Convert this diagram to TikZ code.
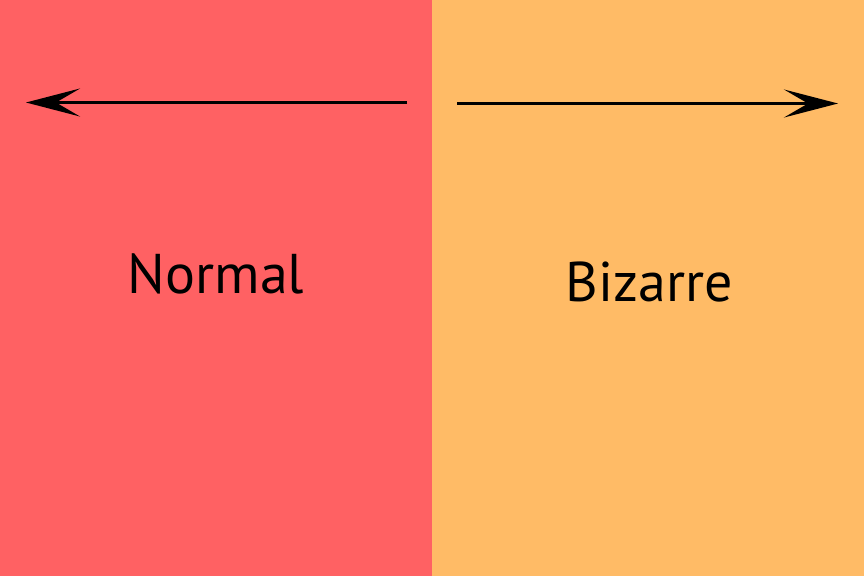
\documentclass[tikz,border=0pt]{standalone}
\usepackage{fontspec}
\setmainfont{PT Sans}
\usetikzlibrary{arrows.meta}
\definecolor{leftred}{HTML}{FF6163}
\definecolor{rightorange}{HTML}{FFBB66}
\tikzset{
  arr/.style={line width=3pt, -{Stealth[length=54pt, width=28pt, inset=24pt]}},
  lbl/.style={font=\fontsize{56}{60}\selectfont, inner sep=0pt, anchor=base}
}
\begin{document}
\begin{tikzpicture}[x=1pt, y=-1pt]
\useasboundingbox (0,0) rectangle (864,576);
\fill[leftred] (0,0) rectangle (432,576);
\fill[rightorange] (432,0) rectangle (864,576);
\coordinate (l0) at (407,102.5);
\coordinate (l1) at (26,102.5);
\coordinate (r0) at (457,103.5);
\coordinate (r1) at (838,103.5);
\draw[arr] (l0) -- (l1);
\draw[arr] (r0) -- (r1);
\node[lbl] (normal) at (216,293) {Normal};
\node[lbl] (bizarre) at (649,301) {Bizarre};
\end{tikzpicture}
\end{document}
